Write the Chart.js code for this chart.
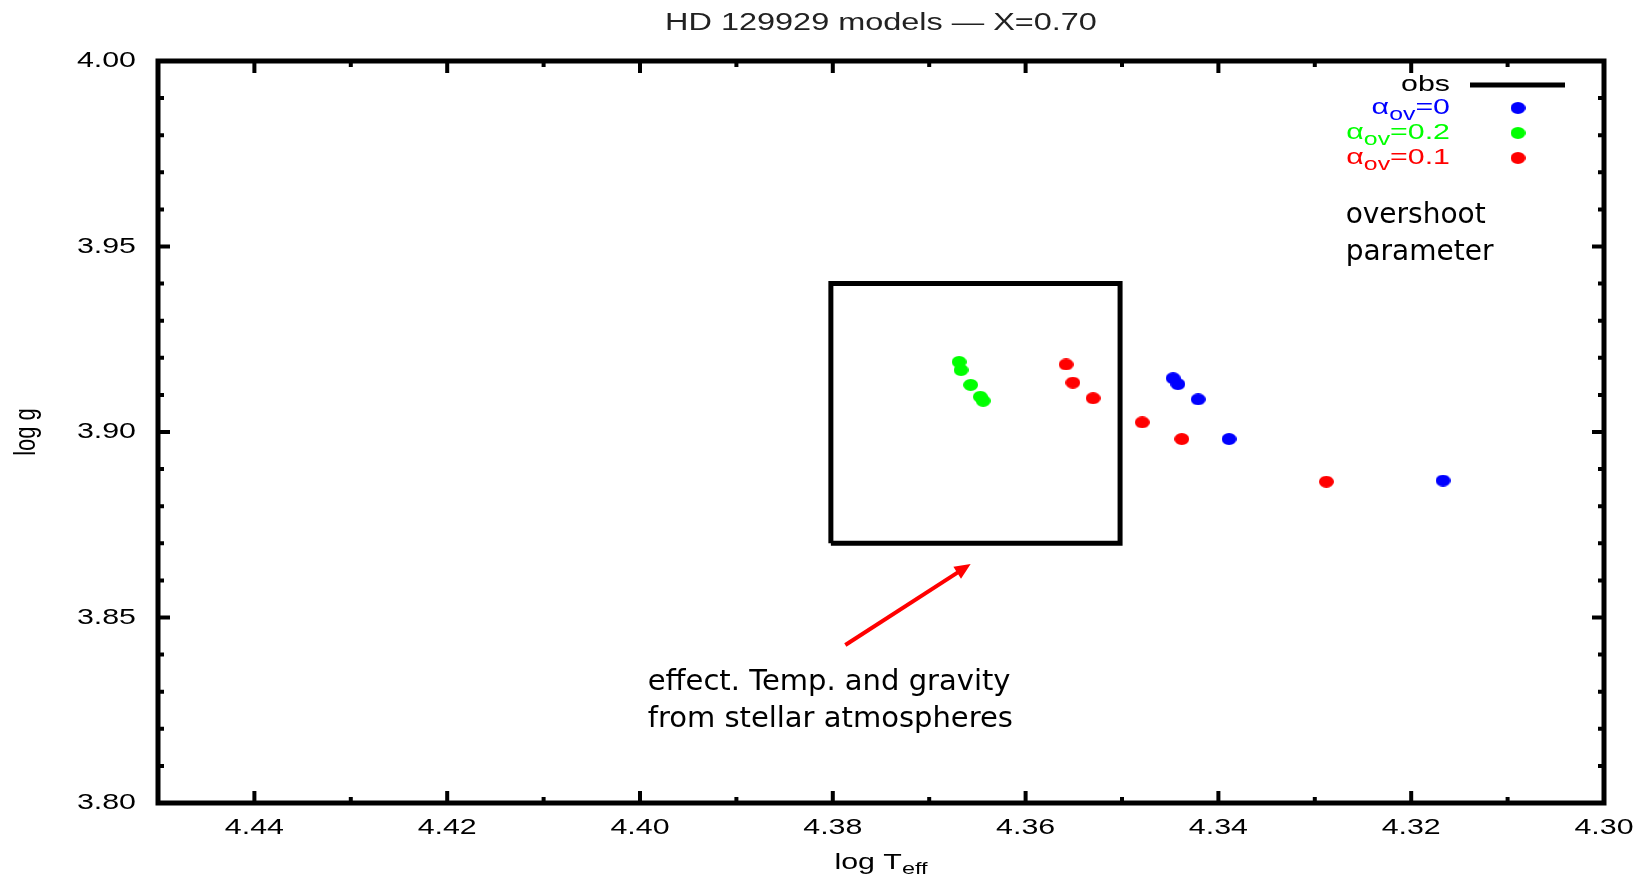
<!DOCTYPE html>
<html>
<head>
<meta charset="utf-8">
<script src="https://cdn.jsdelivr.net/npm/chart.js@4/dist/chart.umd.min.js"></script>
<style>body{margin:0;background:#fff;overflow:hidden}</style>
</head>
<body>
<canvas id="myChart" width="1637" height="879"></canvas>
<script>
// model points (log Teff, log g)
let teffOv0 = [4.3447, 4.3442, 4.3421, 4.3389, 4.3167];
let loggOv0 = [3.9145, 3.9129, 3.9088, 3.8981, 3.8869];
let teffOv02 = [4.3669, 4.3667, 4.3657, 4.3647, 4.3644];
let loggOv02 = [3.9189, 3.9167, 3.9127, 3.9095, 3.9084];
let teffOv01 = [4.3558, 4.3551, 4.3530, 4.3479, 4.3438, 4.3288];
let loggOv01 = [3.9182, 3.9133, 3.9091, 3.9026, 3.8981, 3.8866];
// observed error box
let obsTeff = [4.3802, 4.3502];
let obsLogg = [3.87, 3.94];

let xTicks = [4.44, 4.42, 4.40, 4.38, 4.36, 4.34, 4.32, 4.30];
let yTicks = [3.80, 3.85, 3.90, 3.95, 4.00];

const SX = 1.38; // gnuplot text in the picture is stretched sideways
const GNU = '"Liberation Sans", Arial, sans-serif';
const NOTE = '"DejaVu Sans", sans-serif';

function pts(xs, ys) {
    return xs.map((x, i) => ({x: x, y: ys[i]}));
}

function dot(color) {
    let c = document.createElement('canvas');
    c.width = 15; c.height = 12;
    let g = c.getContext('2d');
    g.fillStyle = color;
    g.beginPath();
    g.ellipse(7.5, 6, 7.5, 6, 0, 0, Math.PI * 2);
    g.fill();
    return c;
}
let dotBlue = dot('#0000ff'), dotGreen = dot('#00ff00'), dotRed = dot('#ff0000');

function wideText(ctx, txt, x, y, align, font) {
    ctx.save();
    ctx.font = font;
    ctx.translate(x, y);
    ctx.scale(SX, 1);
    ctx.textAlign = align || 'left';
    ctx.fillText(txt, 0, 0);
    ctx.restore();
}

function drawRun(ctx, parts, x, y, align) {
    let w = 0;
    parts.forEach(p => { ctx.font = p.f; w += ctx.measureText(p.t).width * SX; });
    let cx = align === 'right' ? x - w : (align === 'center' ? x - w / 2 : x);
    parts.forEach(p => {
        wideText(ctx, p.t, cx, y + (p.dy || 0), 'left', p.f);
        ctx.font = p.f;
        cx += ctx.measureText(p.t).width * SX;
    });
}

const frame = {
    id: 'frame',
    afterDraw(chart) {
        let ctx = chart.ctx, a = chart.chartArea;
        let xs = chart.scales.x, ys = chart.scales.y;
        ctx.save();
        ctx.strokeStyle = '#000';
        ctx.fillStyle = '#000';

        // ticks pointing inwards on all four sides
        ctx.lineWidth = 4;
        ctx.beginPath();
        for (let i = 1; i < 15; i++) {
            let px = xs.getPixelForValue(4.30 + i * 0.01);
            let len = i % 2 === 0 ? 12 : 6;
            ctx.moveTo(px, a.bottom); ctx.lineTo(px, a.bottom - len);
            ctx.moveTo(px, a.top); ctx.lineTo(px, a.top + len);
        }
        for (let i = 1; i < 20; i++) {
            let py = ys.getPixelForValue(3.80 + i * 0.01);
            let len = i % 5 === 0 ? 12 : 6;
            ctx.moveTo(a.left, py); ctx.lineTo(a.left + len, py);
            ctx.moveTo(a.right, py); ctx.lineTo(a.right - len, py);
        }
        ctx.stroke();

        ctx.lineWidth = 5;
        ctx.strokeRect(a.left, a.top, a.right - a.left, a.bottom - a.top);

        // tick labels
        ctx.textBaseline = 'middle';
        xTicks.forEach(v => wideText(ctx, v.toFixed(2), xs.getPixelForValue(v), a.bottom + 25, 'center', '22px ' + GNU));
        yTicks.forEach(v => wideText(ctx, v.toFixed(2), a.left - 22, ys.getPixelForValue(v), 'right', '22px ' + GNU));

        // title
        ctx.fillStyle = '#222';
        wideText(ctx, 'HD 129929 models \u2014 X=0.70', (a.left + a.right) / 2, 24, 'center', '23.5px ' + GNU);
        ctx.fillStyle = '#000';

        // axis titles
        ctx.textBaseline = 'alphabetic';
        drawRun(ctx, [{t: 'log T', f: '22px ' + GNU}, {t: 'eff', f: '17px ' + GNU, dy: 5}],
            (a.left + a.right) / 2, 869, 'center');
        ctx.save();
        ctx.translate(27, (a.top + a.bottom) / 2);
        ctx.rotate(-Math.PI / 2);
        ctx.scale(1, SX);
        ctx.font = '22px ' + GNU;
        ctx.textAlign = 'center';
        ctx.textBaseline = 'middle';
        ctx.fillText('log g', 0, 0);
        ctx.restore();

        // legend
        let lx = a.right - 154, mx = a.right - 86;
        ctx.textBaseline = 'middle';
        wideText(ctx, 'obs', lx, a.top + 24, 'right', '22px ' + GNU);
        ctx.lineWidth = 5;
        ctx.beginPath();
        ctx.moveTo(a.right - 134, a.top + 24);
        ctx.lineTo(a.right - 39, a.top + 24);
        ctx.stroke();
        let rows = [['0', '#0000ff', dotBlue], ['0.2', '#00ff00', dotGreen], ['0.1', '#ff0000', dotRed]];
        rows.forEach((r, i) => {
            let y = a.top + 47 + i * 25;
            ctx.fillStyle = r[1];
            drawRun(ctx, [
                {t: '\u03b1', f: '22px ' + GNU},
                {t: 'ov', f: '18px ' + GNU, dy: 7},
                {t: '=' + r[0], f: '22px ' + GNU}
            ], lx, y, 'right');
            ctx.drawImage(r[2], mx - 7.5, y - 6);
        });

        // annotations
        ctx.fillStyle = '#000';
        ctx.textBaseline = 'alphabetic';
        ctx.textAlign = 'left';
        ctx.font = '28px ' + NOTE;
        ctx.fillText('overshoot', xs.getPixelForValue(4.3268), ys.getPixelForValue(3.9563));
        ctx.fillText('parameter', xs.getPixelForValue(4.3268), ys.getPixelForValue(3.9464));
        ctx.font = '29px ' + NOTE;
        ctx.fillText('effect. Temp. and gravity', xs.getPixelForValue(4.3992), ys.getPixelForValue(3.8305));
        ctx.fillText('from stellar atmospheres', xs.getPixelForValue(4.3992), ys.getPixelForValue(3.8205));

        // red arrow towards the box
        let x0 = xs.getPixelForValue(4.3787), y0 = ys.getPixelForValue(3.8426);
        let x1 = xs.getPixelForValue(4.3657), y1 = ys.getPixelForValue(3.8644);
        let ang = Math.atan2(y1 - y0, x1 - x0);
        ctx.strokeStyle = '#ff0000';
        ctx.fillStyle = '#ff0000';
        ctx.lineWidth = 4;
        ctx.beginPath();
        ctx.moveTo(x0, y0);
        ctx.lineTo(x1 - 12 * Math.cos(ang), y1 - 12 * Math.sin(ang));
        ctx.stroke();
        ctx.beginPath();
        ctx.moveTo(x1, y1);
        ctx.lineTo(x1 - 16 * Math.cos(ang) + 7 * Math.sin(ang), y1 - 16 * Math.sin(ang) - 7 * Math.cos(ang));
        ctx.lineTo(x1 - 16 * Math.cos(ang) - 7 * Math.sin(ang), y1 - 16 * Math.sin(ang) + 7 * Math.cos(ang));
        ctx.closePath();
        ctx.fill();
        ctx.restore();
    }
};

let box = [
    {x: obsTeff[0], y: obsLogg[0]},
    {x: obsTeff[0], y: obsLogg[1]},
    {x: obsTeff[1], y: obsLogg[1]},
    {x: obsTeff[1], y: obsLogg[0]},
    {x: obsTeff[0], y: obsLogg[0]}
];

let myChart = new Chart(document.getElementById('myChart').getContext('2d'), {
    type: 'scatter',
    data: {
        datasets: [{
            label: 'obs',
            data: box,
            showLine: true,
            borderColor: '#000',
            borderWidth: 5,
            borderJoinStyle: 'miter',
            pointRadius: 0
        }, {
            label: '\u03b1ov=0',
            data: pts(teffOv0, loggOv0),
            pointStyle: dotBlue,
            pointRadius: 7
        }, {
            label: '\u03b1ov=0.2',
            data: pts(teffOv02, loggOv02),
            pointStyle: dotGreen,
            pointRadius: 7
        }, {
            label: '\u03b1ov=0.1',
            data: pts(teffOv01, loggOv01),
            pointStyle: dotRed,
            pointRadius: 7
        }]
    },
    options: {
        responsive: false,
        animation: false,
        devicePixelRatio: 1,
        layout: {
            padding: {left: 0, right: 33, top: 61, bottom: 0}
        },
        plugins: {
            legend: {display: false},
            title: {display: false},
            tooltip: {enabled: false}
        },
        scales: {
            x: {
                type: 'linear',
                min: 4.30,
                max: 4.45,
                reverse: true,
                grid: {display: false},
                border: {display: false},
                ticks: {display: false},
                afterBuildTicks: s => { s.ticks = xTicks.map(v => ({value: v})); },
                afterFit: s => { s.height = 76; }
            },
            y: {
                type: 'linear',
                min: 3.80,
                max: 4.00,
                grid: {display: false},
                border: {display: false},
                ticks: {display: false},
                afterBuildTicks: s => { s.ticks = yTicks.map(v => ({value: v})); },
                afterFit: s => { s.width = 158; }
            }
        }
    },
    plugins: [frame]
});
</script>
</body>
</html>
